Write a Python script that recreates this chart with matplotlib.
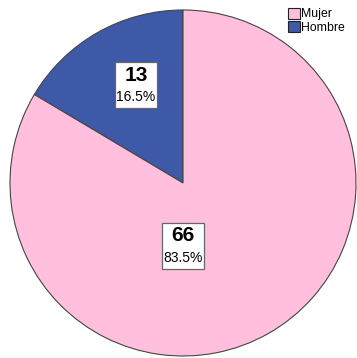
import matplotlib.pyplot as plt
from matplotlib.patches import Patch, Rectangle

plt.rcParams['font.family'] = ['Liberation Sans', 'DejaVu Sans']

categorias = ['Mujer', 'Hombre']
conteos = [66, 13]
porcentajes = [83.5, 16.5]
colores = ['#FFBFDD', '#3F59A9']

fig = plt.figure(figsize=(3.57, 3.58), dpi=100)
ax = fig.add_axes([10 / 357, 2 / 358, 346 / 357, 346 / 358])

# Hombre starts at the top and goes counterclockwise, Mujer fills the rest
wedges, _ = ax.pie(conteos[::-1], colors=colores[::-1], startangle=90,
                   counterclock=True, radius=1,
                   wedgeprops=dict(edgecolor='#444444', linewidth=0.8))
ax.set_xlim(-1, 1)
ax.set_ylim(-1, 1)
ax.set_aspect('auto')
ax.axis('off')

# etiquetas con conteo y porcentaje dentro de un recuadro blanco
posiciones = {'Mujer': (0.0, -0.364), 'Hombre': (-0.272, 0.566)}
ancho, alto = 0.238, 0.262
for cat, n, p in zip(categorias, conteos, porcentajes):
    x, y = posiciones[cat]
    ax.add_patch(Rectangle((x - ancho / 2, y - alto / 2), ancho, alto,
                           fc='white', ec='#666666', lw=0.9, zorder=3))
    ax.text(x, y + 0.058, str(n), ha='center', va='center', fontsize=15,
            fontweight='bold', zorder=4)
    ax.text(x, y - 0.07, f"{p:.1f}%", ha='center', va='center',
            fontsize=10, zorder=4)

handles = [Patch(facecolor=c, edgecolor='#222222', linewidth=0.8) for c in colores]
fig.legend(handles, categorias, loc='upper left',
           bbox_to_anchor=(288 / 357, 1 - 8 / 358), frameon=False,
           fontsize=8.8, handlelength=0.95, handleheight=0.95,
           handletextpad=0.1, labelspacing=0.05, borderpad=0, borderaxespad=0)

fig.savefig('out.png', dpi=100)
